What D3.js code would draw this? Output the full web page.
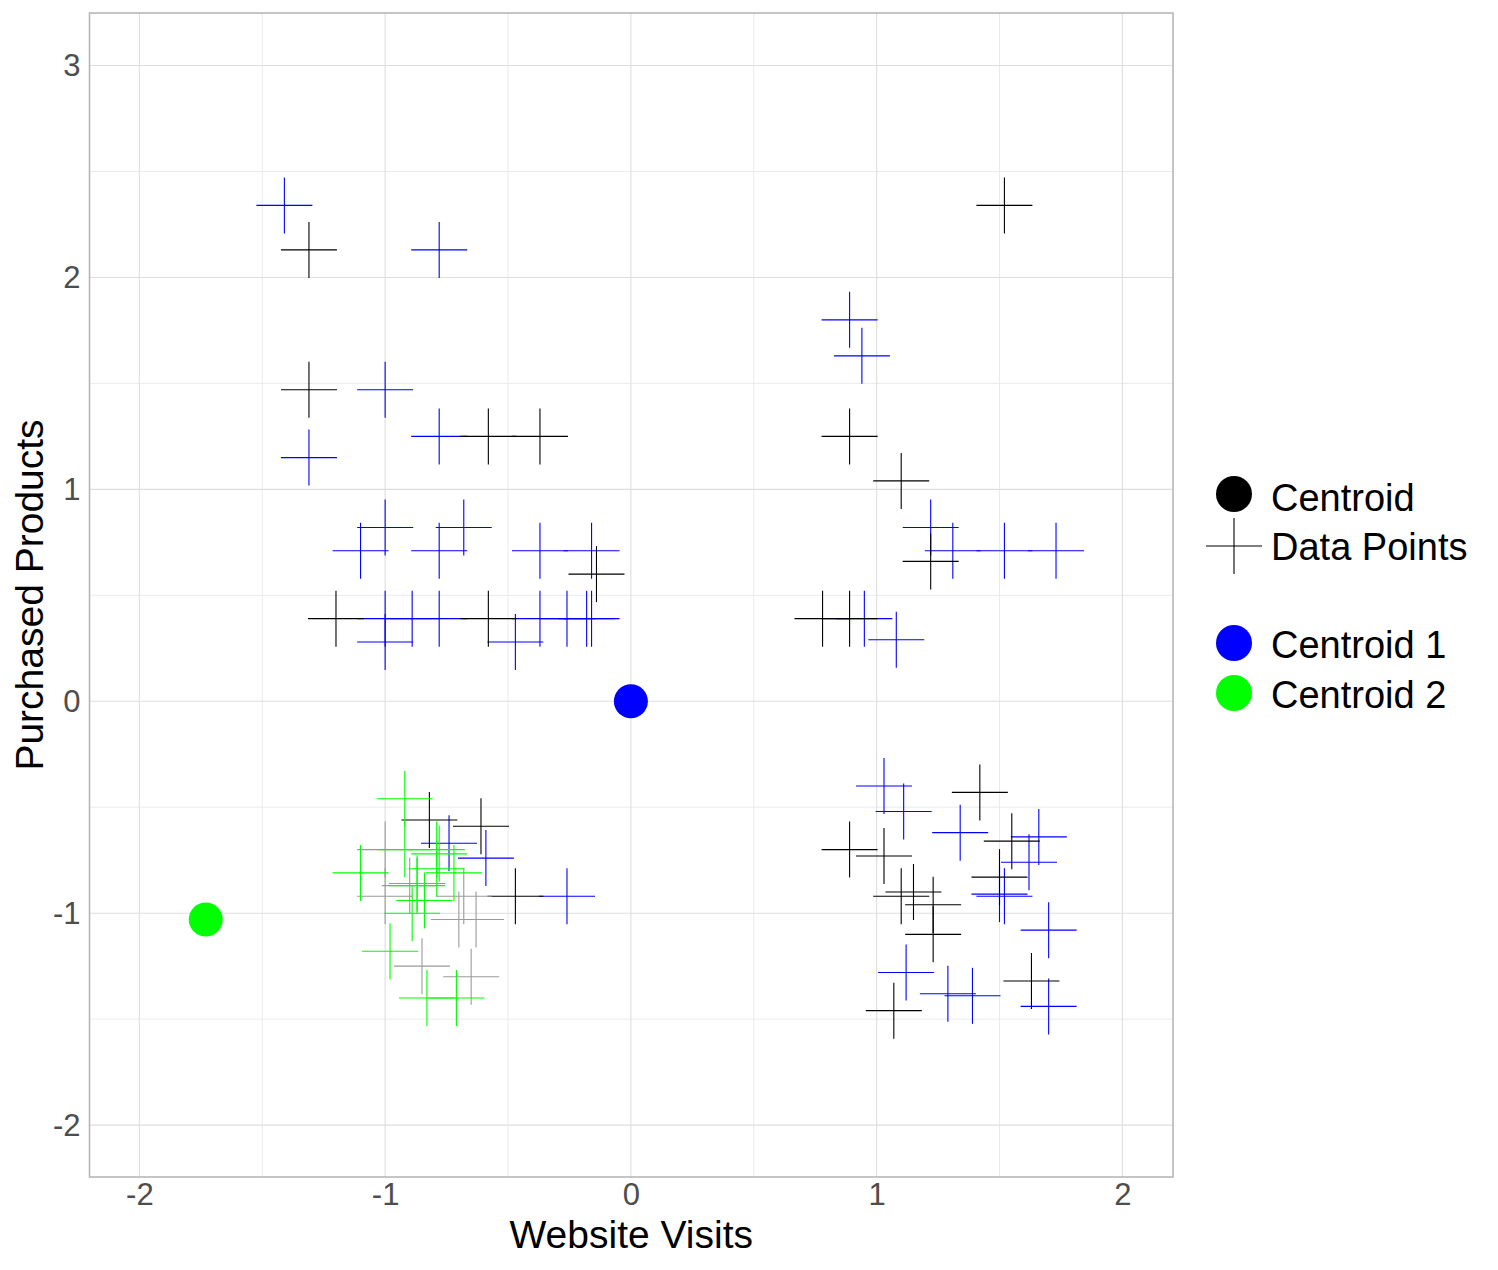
<!DOCTYPE html>
<html>
<head>
<meta charset="utf-8">
<script src="https://cdn.jsdelivr.net/npm/d3@7"></script>
<style>
  body { margin: 0; background: #fff; }
  svg { display: block; font-family: "Liberation Sans", Arial, sans-serif; }
</style>
</head>
<body>
<div id="chart"></div>
<script>
// data points, standardised (website visits, purchased products), split by drawn colour
const blackPts = [
  [-1.31, 2.13], [-1.31, 1.47], [-0.58, 1.25], [-0.37, 1.25], [-0.14, 0.60],
  [-1.20, 0.39], [-0.58, 0.39],
  [1.52, 2.34], [0.89, 1.25], [1.10, 1.04], [1.22, 0.66], [0.78, 0.39], [0.89, 0.39],
  [1.42, -0.43], [0.89, -0.70], [1.03, -0.73], [1.55, -0.66], [1.10, -0.92], [1.15, -0.90],
  [1.23, -0.96], [1.23, -1.10], [1.50, -0.83], [1.07, -1.46], [1.63, -1.32],
  [-0.82, -0.56], [-0.61, -0.59], [-0.47, -0.92]
];
const bluePts = [
  [-1.41, 2.34], [-0.78, 2.13], [-1.00, 1.47], [-1.31, 1.15], [-0.78, 1.25],
  [-1.00, 0.82], [-1.10, 0.71], [-0.68, 0.82], [-0.78, 0.71], [-0.37, 0.71], [-0.16, 0.71],
  [-1.00, 0.39], [-0.89, 0.39], [-0.78, 0.39], [-0.37, 0.39], [-0.26, 0.39], [-0.18, 0.39],
  [-0.16, 0.39], [-1.00, 0.28], [-0.47, 0.28],
  [0.89, 1.80], [0.94, 1.63], [1.22, 0.82], [1.31, 0.71], [1.52, 0.71], [1.73, 0.71],
  [0.95, 0.39], [1.08, 0.29],
  [1.03, -0.40], [1.11, -0.52], [1.34, -0.62], [1.66, -0.64], [1.62, -0.76], [1.50, -0.91],
  [1.52, -0.92], [1.70, -1.08], [1.12, -1.28], [1.29, -1.38], [1.39, -1.39], [1.70, -1.44],
  [-0.74, -0.67], [-0.59, -0.74], [-0.26, -0.92]
];
const greyPts = [
  [-1.00, -0.70], [-0.90, -0.87], [-1.00, -0.92], [-0.68, -0.92], [-0.70, -1.03],
  [-0.63, -1.03], [-0.85, -1.25], [-0.65, -1.30]
];
const greenPts = [
  [-0.92, -0.46], [-0.92, -0.70], [-0.79, -0.70], [-0.78, -0.72], [-1.10, -0.81],
  [-0.72, -0.81], [-0.79, -0.79], [-0.87, -0.86], [-0.87, -0.87], [-0.84, -0.94],
  [-0.89, -1.00], [-0.98, -1.18], [-0.83, -1.40], [-0.71, -1.40]
];
const centroids = [
  { label: "Centroid 1", x: 0, y: 0, color: "#0000FF" },
  { label: "Centroid 2", x: -1.73, y: -1.03, color: "#00FF00" }
];
const xTicks = [-2, -1, 0, 1, 2];
const yTicks = [-2, -1, 0, 1, 2, 3];

const W = 1498, H = 1270;
const P = { l: 89.5, r: 1173, t: 13, b: 1177 };
const ARM = 28;

const svg = d3.select("#chart").append("svg").attr("width", W).attr("height", H);

const x = d3.scaleLinear().domain([-2.203, 2.206]).range([P.l, P.r]);
const y = d3.scaleLinear().domain([-2.245, 3.248]).range([P.b, P.t]);

// grid
const grid = svg.append("g");
const minorX = d3.range(-2, 2.01, 0.5).filter(v => v % 1 !== 0);
const minorY = d3.range(-2, 3.01, 0.5).filter(v => v % 1 !== 0);
grid.selectAll(".mx").data(minorX).join("line")
  .attr("x1", d => x(d)).attr("x2", d => x(d)).attr("y1", P.t).attr("y2", P.b)
  .attr("stroke", "#E6E6E6").attr("stroke-width", 0.8);
grid.selectAll(".my").data(minorY).join("line")
  .attr("y1", d => y(d)).attr("y2", d => y(d)).attr("x1", P.l).attr("x2", P.r)
  .attr("stroke", "#E6E6E6").attr("stroke-width", 0.8);
grid.selectAll(".gx").data(xTicks).join("line")
  .attr("x1", d => x(d)).attr("x2", d => x(d)).attr("y1", P.t).attr("y2", P.b)
  .attr("stroke", "#DEDEDE").attr("stroke-width", 1.1);
grid.selectAll(".gy").data(yTicks).join("line")
  .attr("y1", d => y(d)).attr("y2", d => y(d)).attr("x1", P.l).attr("x2", P.r)
  .attr("stroke", "#DEDEDE").attr("stroke-width", 1.1);

// crosses
function crosses(pts, color) {
  const g = svg.append("g").attr("stroke", color).attr("stroke-width", 1.1);
  g.selectAll(".h").data(pts).join("line")
    .attr("x1", d => x(d[0]) - ARM).attr("x2", d => x(d[0]) + ARM)
    .attr("y1", d => y(d[1])).attr("y2", d => y(d[1]));
  g.selectAll(".v").data(pts).join("line")
    .attr("x1", d => x(d[0])).attr("x2", d => x(d[0]))
    .attr("y1", d => y(d[1]) - ARM).attr("y2", d => y(d[1]) + ARM);
}
crosses(bluePts, "#0000FF");
crosses(blackPts, "#000000");
crosses(greyPts, "#9A9A9A");
crosses(greenPts, "#00FF00");

svg.append("g").selectAll("circle").data(centroids).join("circle")
  .attr("cx", d => x(d.x)).attr("cy", d => y(d.y)).attr("r", 17)
  .attr("fill", d => d.color);

// panel border
svg.append("rect")
  .attr("x", P.l).attr("y", P.t).attr("width", P.r - P.l).attr("height", P.b - P.t)
  .attr("fill", "none").attr("stroke", "#B3B3B3").attr("stroke-width", 1.5);

// axes (plain hyphen minus, as in the original)
const fmt = d => String(d);
const xAx = svg.append("g").attr("transform", `translate(0,${P.b})`)
  .call(d3.axisBottom(x).tickValues(xTicks).tickSize(0).tickPadding(6).tickFormat(fmt));
xAx.select(".domain").remove();
xAx.selectAll("text").attr("fill", "#4D4D4D").style("font-size", "31px")
  .style("font-family", "'Liberation Sans', Arial, sans-serif");

const yAx = svg.append("g").attr("transform", `translate(${P.l},0)`)
  .call(d3.axisLeft(y).tickValues(yTicks).tickSize(0).tickPadding(9).tickFormat(fmt));
yAx.select(".domain").remove();
yAx.selectAll("text").attr("fill", "#4D4D4D").style("font-size", "31px")
  .style("font-family", "'Liberation Sans', Arial, sans-serif");

svg.append("text").attr("x", (P.l + P.r) / 2).attr("y", 1248)
  .attr("text-anchor", "middle").style("font-size", "39px").text("Website Visits");
svg.append("text").attr("transform", `translate(43,${(P.t + P.b) / 2}) rotate(-90)`)
  .attr("text-anchor", "middle").style("font-size", "39px").text("Purchased Products");

// legend
const leg = svg.append("g").attr("transform", "translate(1234,0)");
leg.append("circle").attr("cx", 0).attr("cy", 494).attr("r", 18).attr("fill", "#000");
leg.append("line").attr("x1", -ARM).attr("x2", ARM).attr("y1", 546).attr("y2", 546)
  .attr("stroke", "#000").attr("stroke-width", 1.1);
leg.append("line").attr("x1", 0).attr("x2", 0).attr("y1", 546 - ARM).attr("y2", 546 + ARM)
  .attr("stroke", "#000").attr("stroke-width", 1.1);
leg.append("text").attr("x", 37).attr("y", 511).style("font-size", "38px").text("Centroid");
leg.append("text").attr("x", 37).attr("y", 560).style("font-size", "38px").text("Data Points");

leg.selectAll(".ck").data(centroids).join("circle")
  .attr("cx", 0).attr("cy", (d, i) => 643 + i * 50).attr("r", 18).attr("fill", d => d.color);
leg.selectAll(".ct").data(centroids).join("text")
  .attr("x", 37).attr("y", (d, i) => 658 + i * 50).style("font-size", "38px").text(d => d.label);
</script>
</body>
</html>
